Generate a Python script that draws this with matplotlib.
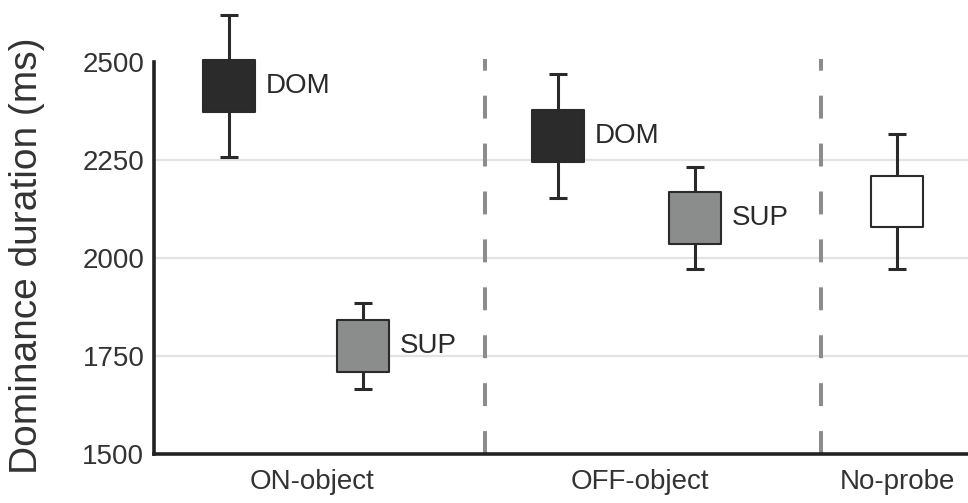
import matplotlib.pyplot as plt

# mean dominance durations (ms) and their error half-widths
conditions = ["ON DOM", "ON SUP", "OFF DOM", "OFF SUP", "No-probe"]
means = [2439, 1775, 2311, 2102, 2144]
errors = [181, 109, 158, 130, 172]
point_labels = ["DOM", "SUP", "DOM", "SUP", ""]

groups = ["ON-object", "OFF-object", "No-probe"]
yticks = [1500, 1750, 2000, 2250, 2500]

# layout along x (arbitrary units)
xpos = [0.75, 2.09, 4.04, 5.41, 7.43]
group_pos = [1.58, 4.86, 7.43]
dividers = [3.31, 6.67]
fills = ["#2b2b2b", "#8b8d8c", "#2b2b2b", "#8b8d8c", "#ffffff"]

plt.rcParams['font.family'] = ['Liberation Sans', 'DejaVu Sans']
plt.rcParams['lines.scale_dashes'] = False

fig = plt.figure(figsize=(9.68, 5.03), dpi=100)
ax = fig.add_axes([154 / 968, 1 - 454 / 503, 1 - 154 / 968, 454 / 503])
ax.set_xlim(0, 8.14)
ax.set_ylim(1500, 2658)

# light horizontal guides
for v in yticks[1:-1]:
    ax.axhline(v, color="#e3e3e1", lw=1.6, zorder=0)

# dashed separators between the conditions
for d in dividers:
    ax.plot([d, d], [1500, 2508], color="#8c8c8c", lw=2.9,
            dashes=(16.5, 18), zorder=1, solid_capstyle="butt")

ax.errorbar(xpos, means, yerr=errors, fmt="none", ecolor="#2a2a2a",
            elinewidth=2.2, capsize=6.5, capthick=2.2, zorder=2)
ax.scatter(xpos, means, marker="s", s=37 ** 2, c=fills,
           edgecolors="#2a2a2a", linewidths=1.5, zorder=3)

for x, m, lab in zip(xpos, means, point_labels):
    if lab:
        ax.text(x + 0.37, m, lab, fontsize=20, color="#2a2a2a",
                ha="left", va="center")

ax.spines[["top", "right"]].set_visible(False)
for s in ["left", "bottom"]:
    ax.spines[s].set_linewidth(2.6)
    ax.spines[s].set_color("#222222")
ax.spines["left"].set_bounds(1500, 2500)

ax.set_yticks(yticks)
ax.set_yticklabels([str(t) for t in yticks])
ax.set_xticks(group_pos)
ax.set_xticklabels(groups)
ax.tick_params(axis="y", length=0, pad=7, labelsize=20, labelcolor="#333333")
ax.tick_params(axis="x", length=0, pad=11, labelsize=20, labelcolor="#333333")

fig.text(27 / 968, 1 - 256 / 503, "Dominance duration (ms)", rotation=90,
         fontsize=28, color="#333333", ha="center", va="center")

fig.savefig("out.png", dpi=100)
